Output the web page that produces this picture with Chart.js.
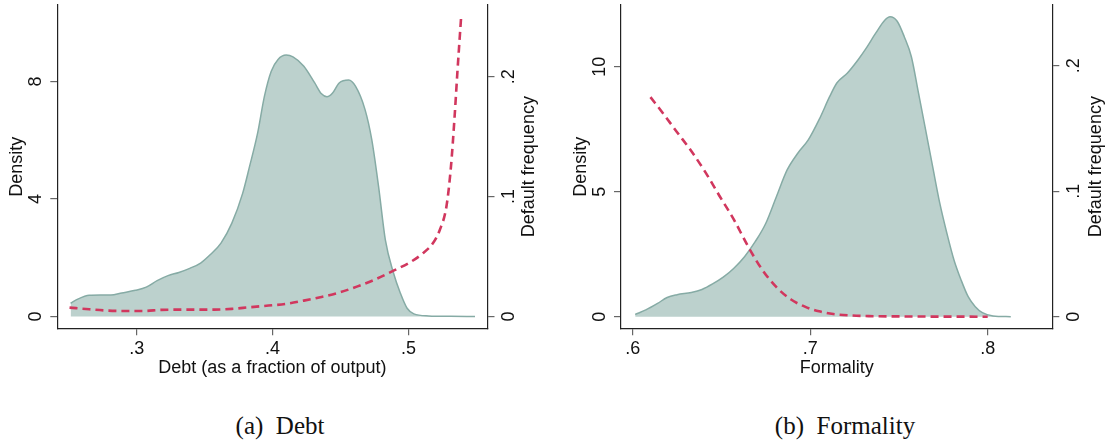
<!DOCTYPE html>
<html>
<head>
<meta charset="utf-8">
<script src="https://cdn.jsdelivr.net/npm/chart.js@4.4.1/dist/chart.umd.min.js"></script>
<style>
  body { margin: 0; background: #fff; width: 1107px; height: 443px; position: relative; overflow: hidden; }
  canvas { position: absolute; top: 0; }
  .cap { position: absolute; font-family: 'Liberation Serif', 'Times New Roman', serif; font-size: 25px; color: #111; white-space: pre; transform: translate(-50%, -50%); }
</style>
</head>
<body>
<canvas id="debt" width="553" height="400" style="left:0"></canvas>
<canvas id="formality" width="554" height="400" style="left:553px"></canvas>
<div class="cap" style="left:280px;top:426px">(a)  Debt</div>
<div class="cap" style="left:845px;top:426px">(b)  Formality</div>
<script>
// panel (a): debt distribution and default frequency
const debtX = [0.2513, 0.257, 0.265, 0.273, 0.281, 0.289, 0.299, 0.307, 0.315, 0.323, 0.331, 0.339, 0.347, 0.354, 0.362, 0.370, 0.378, 0.383, 0.389, 0.394, 0.399, 0.404, 0.410, 0.415, 0.423, 0.431, 0.436, 0.440, 0.444, 0.449, 0.456, 0.461, 0.468, 0.473, 0.478, 0.483, 0.489, 0.494, 0.499, 0.504, 0.515, 0.531, 0.549];
const debtDensity = [0.45, 0.6, 0.72, 0.73, 0.73, 0.8, 0.89, 1.0, 1.22, 1.39, 1.5, 1.64, 1.82, 2.1, 2.5, 3.18, 4.2, 5.1, 6.25, 7.5, 8.35, 8.75, 8.9, 8.84, 8.52, 7.95, 7.58, 7.48, 7.6, 7.95, 8.05, 7.84, 7.05, 6.02, 4.43, 2.61, 1.48, 0.8, 0.28, 0.09, 0.02, 0.005, 0];
const debtFreqX = [0.2505, 0.265, 0.278, 0.291, 0.3045, 0.318, 0.331, 0.344, 0.357, 0.370, 0.383, 0.397, 0.410, 0.423, 0.436, 0.449, 0.462, 0.4755, 0.489, 0.502, 0.510, 0.518, 0.523, 0.528, 0.5313, 0.534, 0.536, 0.5388];
const debtFreq = [0.0075, 0.0061, 0.005, 0.0047, 0.0047, 0.0056, 0.0058, 0.0058, 0.0058, 0.0064, 0.0078, 0.0092, 0.0106, 0.0133, 0.0164, 0.020, 0.025, 0.031, 0.0383, 0.0458, 0.0522, 0.0611, 0.072, 0.092, 0.125, 0.167, 0.203, 0.25];

// panel (b): formality
const formX = [0.6014, 0.6074, 0.614, 0.6194, 0.625, 0.633, 0.639, 0.645, 0.651, 0.657, 0.663, 0.669, 0.675, 0.681, 0.687, 0.693, 0.699, 0.705, 0.711, 0.715, 0.721, 0.727, 0.731, 0.737, 0.742, 0.745, 0.749, 0.753, 0.757, 0.761, 0.765, 0.769, 0.773, 0.777, 0.781, 0.785, 0.789, 0.793, 0.797, 0.803, 0.813];
const formDensity = [0.09, 0.27, 0.53, 0.77, 0.88, 0.97, 1.09, 1.31, 1.58, 1.94, 2.4, 3.0, 3.74, 4.81, 5.87, 6.54, 7.08, 7.88, 8.81, 9.35, 9.75, 10.28, 10.68, 11.35, 11.86, 12.0, 11.82, 11.2, 10.4, 8.95, 7.48, 6.0, 4.54, 3.34, 2.27, 1.47, 0.8, 0.4, 0.16, 0.03, 0];
const formFreqX = [0.610, 0.6174, 0.625, 0.633, 0.641, 0.649, 0.657, 0.665, 0.673, 0.681, 0.689, 0.697, 0.705, 0.713, 0.723, 0.733, 0.753, 0.800];
const formFreq = [0.175, 0.1615, 0.147, 0.132, 0.115, 0.096, 0.0774, 0.056, 0.0374, 0.0235, 0.0139, 0.008, 0.0043, 0.0021, 0.001, 0.0005, 0.0002, 0];

// tick labels
const debtXTicks = [0.3, 0.4, 0.5];
const formXTicks = [0.6, 0.7, 0.8];
const debtDensityTicks = [0, 4, 8];
const formDensityTicks = [0, 5, 10];
const freqTicks = [0, 0.1, 0.2];

const FONT = "'Liberation Sans', Arial, sans-serif";
const fmt = v => String(+v.toFixed(2)).replace(/^0\./, '.');
const pts = (xs, ys) => xs.map((x, i) => ({ x, y: ys[i] }));

// stata style: y labels and titles all read bottom-to-top
const stataText = {
  id: 'stataText',
  afterDraw(chart, args, o) {
    const { ctx, chartArea: a, scales } = chart;
    ctx.save();
    ctx.fillStyle = '#111';
    ctx.font = '18px ' + FONT;
    ctx.textAlign = 'center';
    ctx.textBaseline = 'middle';
    const vtext = (t, x, y) => {
      ctx.save(); ctx.translate(x, y); ctx.rotate(-Math.PI / 2); ctx.fillText(t, 0, 0); ctx.restore();
    };
    for (const t of scales.y.ticks) vtext(fmt(t.value), a.left - o.lab, scales.y.getPixelForValue(t.value));
    for (const t of scales.y2.ticks) vtext(fmt(t.value), a.right + o.lab + 1, scales.y2.getPixelForValue(t.value));
    const midY = (a.top + a.bottom) / 2;
    vtext(o.yTitle, a.left - o.yt, midY);
    vtext(o.y2Title, a.right + o.y2t, midY);
    ctx.fillText(o.xTitle, (a.left + a.right) / 2, 368);
    ctx.restore();
  }
};

function makeChart(id, c) {
  const border = { display: true, color: '#222', width: 1.2 };
  const grid = { drawOnChartArea: false, drawTicks: true, tickLength: 7, color: '#666', lineWidth: 1.2 };
  const setTicks = vals => s => { s.ticks = vals.map(v => ({ value: v })); };
  new Chart(document.getElementById(id), {
    type: 'line',
    data: {
      datasets: [
        { label: 'Default frequency', data: pts(c.fx, c.fy), yAxisID: 'y2', borderColor: '#d1375e', borderWidth: 2.6,
          borderDash: [8, 5], fill: false, pointRadius: 0, cubicInterpolationMode: 'monotone', order: 0 },
        { label: 'Density', data: pts(c.dx, c.dy), yAxisID: 'y', borderColor: '#86aba5', backgroundColor: '#bcd1cd',
          borderWidth: 1.5, fill: 'origin', pointRadius: 0, cubicInterpolationMode: 'monotone', order: 1 }
      ]
    },
    options: {
      responsive: false,
      animation: false,
      devicePixelRatio: 1,
      layout: { padding: { top: 5 } },
      plugins: { legend: { display: false }, tooltip: { enabled: false }, stataText: c.text },
      scales: {
        x: {
          type: 'linear', min: c.xMin, max: c.xMax,
          afterBuildTicks: setTicks(c.xTicks),
          afterFit: s => { s.height = 71.7; },
          ticks: { callback: v => fmt(v), font: { family: FONT, size: 18 }, color: '#111', padding: 3, maxRotation: 0, autoSkip: false },
          grid, border
        },
        y: {
          position: 'left', min: c.yMin, max: c.yMax,
          afterBuildTicks: setTicks(c.yTicks),
          afterFit: s => { s.width = c.yW; },
          ticks: { display: false },
          grid, border
        },
        y2: {
          position: 'right', min: c.y2Min, max: c.y2Max,
          afterBuildTicks: setTicks(freqTicks),
          afterFit: s => { s.width = c.y2W; },
          ticks: { display: false },
          grid, border
        }
      }
    },
    plugins: [stataText]
  });
}

makeChart('debt', {
  dx: debtX, dy: debtDensity, fx: debtFreqX, fy: debtFreq,
  xMin: 0.2415, xMax: 0.5582, xTicks: debtXTicks,
  yMin: -0.402, yMax: 10.604, yTicks: debtDensityTicks,
  y2Min: -0.00975, y2Max: 0.2597,
  yW: 57.3, y2W: 65.5,
  text: { xTitle: 'Debt (as a fraction of output)', yTitle: 'Density', y2Title: 'Default frequency', lab: 21, yt: 40.5, y2t: 42 }
});

makeChart('formality', {
  dx: formX, dy: formDensity, fx: formFreqX, fy: formFreq,
  xMin: 0.5934, xMax: 0.8364, xTicks: formXTicks,
  yMin: -0.464, yMax: 12.468, yTicks: formDensityTicks,
  y2Min: -0.00924, y2Max: 0.2484,
  yW: 68, y2W: 54.7,
  text: { xTitle: 'Formality', yTitle: 'Density', y2Title: 'Default frequency', lab: 21, yt: 40, y2t: 44 }
});
</script>
</body>
</html>
